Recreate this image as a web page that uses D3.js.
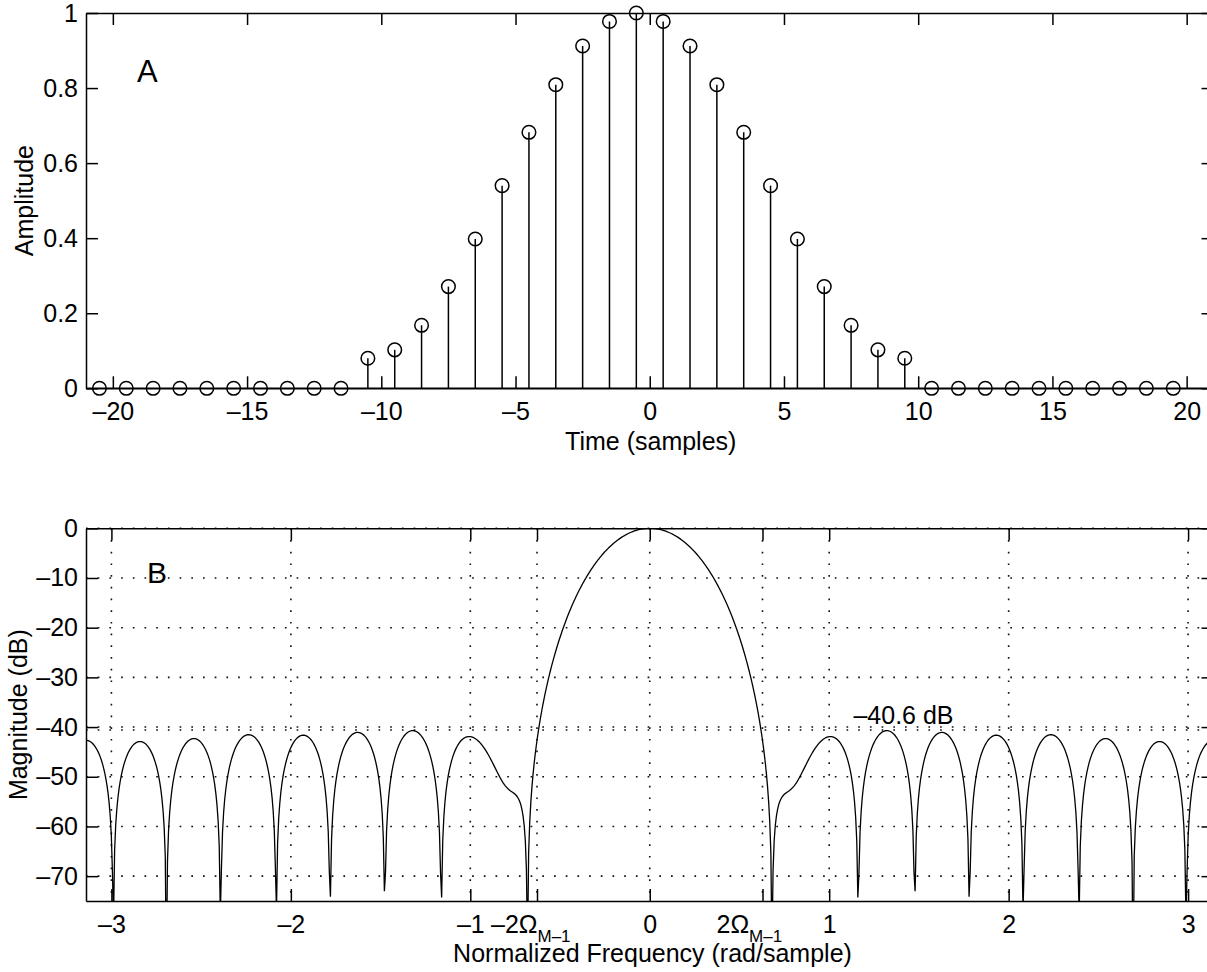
<!DOCTYPE html>
<html>
<head>
<meta charset="utf-8">
<script src="https://cdn.jsdelivr.net/npm/d3@7"></script>
<style>
  html, body { margin: 0; padding: 0; background: #fff; }
  svg { display: block; font-family: "Liberation Sans", Arial, Helvetica, sans-serif; }
</style>
</head>
<body>
<svg id="chart" width="1207" height="972"></svg>
<script>
// ---- Data -----------------------------------------------------------------
// 21-tap Hamming window, zero-padded on both sides (positions in samples)
const sampleTimes = [
  -20.5, -19.5, -18.5, -17.5, -16.5, -15.5, -14.5, -13.5, -12.5, -11.5,
  -10.5, -9.5, -8.5, -7.5, -6.5, -5.5, -4.5, -3.5, -2.5, -1.5, -0.5,
  0.5, 1.5, 2.5, 3.5, 4.5, 5.5, 6.5, 7.5, 8.5, 9.5,
  10.5, 11.5, 12.5, 13.5, 14.5, 15.5, 16.5, 17.5, 18.5, 19.5
];
const amplitudes = [
  0, 0, 0, 0, 0, 0, 0, 0, 0, 0,
  0.08, 0.1025, 0.1679, 0.2710, 0.3979, 0.54, 0.6821, 0.8090, 0.9121, 0.9775, 1.0,
  0.9775, 0.9121, 0.8090, 0.6821, 0.54, 0.3979, 0.2710, 0.1679, 0.1025, 0.08,
  0, 0, 0, 0, 0, 0, 0, 0, 0, 0
];

const timeTicks = [-20, -15, -10, -5, 0, 5, 10, 15, 20];
const amplitudeTicks = [0, 0.2, 0.4, 0.6, 0.8, 1];
const freqTicks = [-3, -2, -1, 0, 1, 2, 3];
const mainlobeTicks = [-0.6283, 0.6283];          // ±2Ω_{M−1}
const mainlobeLabels = ["\u20132\u03A9", "2\u03A9"];
const mainlobeSub = "M\u20131";
const magnitudeTicks = [0, -10, -20, -30, -40, -50, -60, -70];
const peakSidelobeDb = -40.6;
const nFreq = 1024;                                // frequency points over [−π, π]

// ---- Magnitude response of the window (dB, normalised to DC) ---------------
function dtftMagnitude(times, values, w) {
  let re = 0, im = 0;
  for (let i = 0; i < times.length; i++) {
    re += values[i] * Math.cos(w * times[i]);
    im -= values[i] * Math.sin(w * times[i]);
  }
  return Math.hypot(re, im);
}
const freqs = d3.range(nFreq + 1).map(k => -Math.PI + 2 * Math.PI * k / nFreq);
const dc = dtftMagnitude(sampleTimes, amplitudes, 0);
const spectrum = freqs.map(w => {
  const m = dtftMagnitude(sampleTimes, amplitudes, w) / dc;
  return { w, db: Math.max(20 * Math.log10(m), -300) };
});

// ---- Layout -----------------------------------------------------------------
const svg = d3.select("#chart");
const FONT = 25;
const TICK = 12;
const left = 86, right = 1213.5;
const A = { top: 13, bottom: 388.3 };
const B = { top: 528.3, bottom: 901 };

const enDash = s => String(s).replace("-", "\u2013");

function styleAxis(g) {
  g.attr("font-family", null).attr("font-size", FONT);
  g.select(".domain").attr("stroke", "#000").attr("stroke-width", 1.5);
  g.selectAll(".tick line").attr("stroke", "#000").attr("stroke-width", 1.5);
  g.selectAll(".tick text").attr("fill", "#000");
}

// ---- Panel A: stem plot ------------------------------------------------------
const xA = d3.scaleLinear().domain([-21, 21]).range([left, right]);
const yA = d3.scaleLinear().domain([0, 1]).range([A.bottom, A.top]);

const gA = svg.append("g");

gA.append("g").attr("transform", `translate(0,${A.bottom})`)
  .call(d3.axisBottom(xA).tickValues(timeTicks).tickSizeInner(-TICK).tickSizeOuter(0)
    .tickPadding(13.5).tickFormat(enDash))
  .call(styleAxis);
gA.append("g").attr("transform", `translate(0,${A.top})`)
  .call(d3.axisTop(xA).tickValues(timeTicks).tickSizeInner(-TICK).tickSizeOuter(0).tickFormat(""))
  .call(styleAxis);
gA.append("g").attr("transform", `translate(${left},0)`)
  .call(d3.axisLeft(yA).tickValues(amplitudeTicks).tickSizeInner(-TICK).tickSizeOuter(0)
    .tickPadding(8).tickFormat(d => String(d)))
  .call(styleAxis);
gA.append("g").attr("transform", `translate(${right},0)`)
  .call(d3.axisRight(yA).tickValues(amplitudeTicks).tickSizeInner(-TICK).tickSizeOuter(0).tickFormat(""))
  .call(styleAxis);

// zero baseline
gA.append("line")
  .attr("x1", xA(-21)).attr("x2", xA(21))
  .attr("y1", yA(0)).attr("y2", yA(0))
  .attr("stroke", "#000").attr("stroke-width", 1.4);

const stems = gA.append("g");
stems.selectAll("line.stem")
  .data(sampleTimes.map((t, i) => ({ t, v: amplitudes[i] })))
  .join("line")
  .attr("class", "stem")
  .attr("x1", d => xA(d.t)).attr("x2", d => xA(d.t))
  .attr("y1", yA(0)).attr("y2", d => yA(d.v))
  .attr("stroke", "#000").attr("stroke-width", 1.5);
stems.selectAll("circle")
  .data(sampleTimes.map((t, i) => ({ t, v: amplitudes[i] })))
  .join("circle")
  .attr("cx", d => xA(d.t)).attr("cy", d => yA(d.v))
  .attr("r", 6.8)
  .attr("fill", "none").attr("stroke", "#000").attr("stroke-width", 1.5);

gA.append("text")
  .attr("x", (left + right) / 2 + 1).attr("y", 450)
  .attr("text-anchor", "middle").attr("font-size", FONT)
  .text("Time (samples)");
gA.append("text")
  .attr("transform", `translate(33,${(A.top + A.bottom) / 2}) rotate(-90)`)
  .attr("text-anchor", "middle").attr("font-size", FONT)
  .text("Amplitude");
gA.append("text")
  .attr("x", 137).attr("y", 82.3)
  .attr("font-size", 31)
  .text("A");

// ---- Panel B: magnitude response --------------------------------------------
const xB = d3.scaleLinear().domain([-Math.PI, Math.PI]).range([left, right]);
const yB = d3.scaleLinear().domain([-75, 0]).range([B.bottom, B.top]);

const gB = svg.append("g");

svg.append("defs").append("clipPath").attr("id", "clipB")
  .append("rect")
  .attr("x", left).attr("y", B.top)
  .attr("width", right - left).attr("height", B.bottom - B.top);

// dotted grid
const grid = gB.append("g")
  .attr("stroke", "#111").attr("stroke-width", 1.6)
  .attr("stroke-dasharray", "1.7 10");
grid.selectAll("line.v")
  .data(freqTicks.concat(mainlobeTicks))
  .join("line").attr("class", "v")
  .attr("x1", d => xB(d)).attr("x2", d => xB(d))
  .attr("y1", B.top).attr("y2", B.bottom);
grid.selectAll("line.h")
  .data(magnitudeTicks.concat([peakSidelobeDb]))
  .join("line").attr("class", "h")
  .attr("x1", left).attr("x2", right)
  .attr("y1", d => yB(d)).attr("y2", d => yB(d));

// response curve
gB.append("path")
  .datum(spectrum)
  .attr("clip-path", "url(#clipB)")
  .attr("fill", "none").attr("stroke", "#000").attr("stroke-width", 1.3)
  .attr("d", d3.line().x(d => xB(d.w)).y(d => yB(Math.max(d.db, -90))));

gB.append("g").attr("transform", `translate(0,${B.bottom})`)
  .call(d3.axisBottom(xB).tickValues(freqTicks.concat(mainlobeTicks)).tickSizeInner(-TICK)
    .tickSizeOuter(0).tickPadding(14)
    .tickFormat(d => mainlobeTicks.includes(d) ? "" : enDash(d)))
  .call(styleAxis);
gB.append("g").attr("transform", `translate(0,${B.top})`)
  .call(d3.axisTop(xB).tickValues(freqTicks.concat(mainlobeTicks)).tickSizeInner(-TICK)
    .tickSizeOuter(0).tickFormat(""))
  .call(styleAxis);
gB.append("g").attr("transform", `translate(${left},0)`)
  .call(d3.axisLeft(yB).tickValues(magnitudeTicks).tickSizeInner(-TICK).tickSizeOuter(0)
    .tickPadding(8).tickFormat(enDash))
  .call(styleAxis);
gB.append("g").attr("transform", `translate(${right},0)`)
  .call(d3.axisRight(yB).tickValues(magnitudeTicks).tickSizeInner(-TICK).tickSizeOuter(0).tickFormat(""))
  .call(styleAxis);

// ±2Ω_{M−1} tick labels with subscripts
mainlobeTicks.forEach((w, i) => {
  const t = gB.append("text")
    .attr("x", xB(w) - 46).attr("y", B.bottom + 32)
    .attr("font-size", FONT);
  t.append("tspan").text(mainlobeLabels[i]);
  t.append("tspan").attr("dy", 9).attr("font-size", 17).text(mainlobeSub);
});

gB.append("text")
  .attr("x", xB(1.135)).attr("y", yB(peakSidelobeDb) - 6)
  .attr("font-size", FONT)
  .text(enDash(peakSidelobeDb) + " dB");

gB.append("text")
  .attr("x", 652.5).attr("y", 962)
  .attr("text-anchor", "middle").attr("font-size", FONT)
  .text("Normalized Frequency (rad/sample)");
gB.append("text")
  .attr("transform", `translate(27,${(B.top + B.bottom) / 2}) rotate(-90)`)
  .attr("text-anchor", "middle").attr("font-size", FONT)
  .text("Magnitude (dB)");
gB.append("text")
  .attr("x", 147).attr("y", 583.3)
  .attr("font-size", 30)
  .text("B");
</script>
</body>
</html>
